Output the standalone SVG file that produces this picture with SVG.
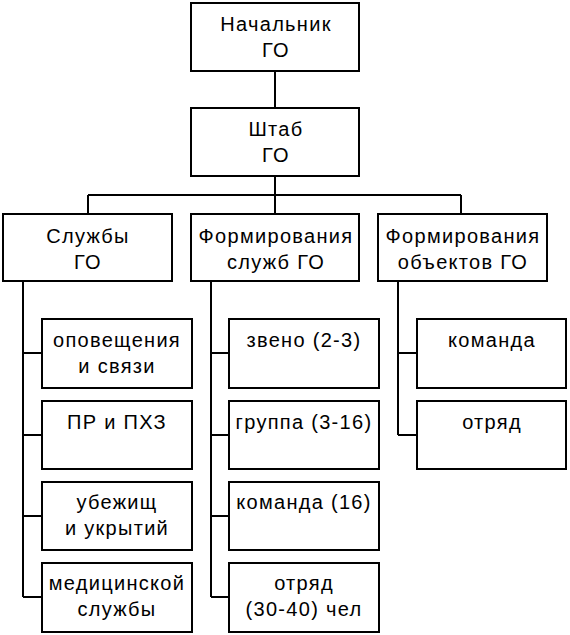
<svg xmlns="http://www.w3.org/2000/svg" width="570" height="635" viewBox="0 0 570 635">
<style>
.box{fill:#fff;stroke:#000;stroke-width:2}
.ln{fill:none;stroke:#000;stroke-width:2}
text{font-family:"Liberation Sans",Arial,sans-serif;font-size:20px;fill:#000;text-anchor:middle;letter-spacing:1.3px}
</style>
<rect width="570" height="635" fill="#fff"/>
<g id="connectors">
<path class="ln" d="M275 71V108M275 176V195M88 195H461M88 195V214M275 195V214M461 195V214"/>
<path class="ln" d="M23 281V597M23 353H42M23 435H42M23 516H42M23 597H42"/>
<path class="ln" d="M211 281V597M211 353H229M211 435H229M211 516H229M211 597H229"/>
<path class="ln" d="M398 281V435M398 353H417M398 435H417"/>
</g>
<g id="n-head"><rect class="box" x="191" y="3" width="168" height="68"/><text x="276" y="31">Начальник</text><text x="276" y="57">ГО</text></g>
<g id="n-staff"><rect class="box" x="191" y="108" width="168" height="68"/><text x="276" y="136">Штаб</text><text x="276" y="162">ГО</text></g>
<g id="n-services"><rect class="box" x="3" y="214" width="169" height="67"/><text x="88" y="243">Службы</text><text x="88" y="269">ГО</text></g>
<g id="n-form-services"><rect class="box" x="191" y="214" width="168" height="67"/><text x="276" y="243">Формирования</text><text x="276" y="269">служб ГО</text></g>
<g id="n-form-objects"><rect class="box" x="378" y="214" width="169" height="67"/><text x="463" y="243">Формирования</text><text x="463" y="269">объектов ГО</text></g>
<g id="n-s1"><rect class="box" x="42" y="319" width="150" height="69"/><text x="117" y="347">оповещения</text><text x="117" y="373">и связи</text></g>
<g id="n-s2"><rect class="box" x="42" y="401" width="150" height="68"/><text x="117" y="429">ПР и ПХЗ</text></g>
<g id="n-s3"><rect class="box" x="42" y="482" width="150" height="68"/><text x="117" y="509">убежищ</text><text x="117" y="535">и укрытий</text></g>
<g id="n-s4"><rect class="box" x="42" y="563" width="150" height="69"/><text x="117" y="590">медицинской</text><text x="117" y="616">службы</text></g>
<g id="n-f1"><rect class="box" x="229" y="319" width="150" height="69"/><text x="304" y="347">звено (2-3)</text></g>
<g id="n-f2"><rect class="box" x="229" y="401" width="150" height="68"/><text x="304" y="429">группа (3-16)</text></g>
<g id="n-f3"><rect class="box" x="229" y="482" width="150" height="68"/><text x="304" y="509">команда (16)</text></g>
<g id="n-f4"><rect class="box" x="229" y="563" width="150" height="69"/><text x="304" y="590">отряд</text><text x="304" y="616">(30-40) чел</text></g>
<g id="n-o1"><rect class="box" x="417" y="319" width="149" height="69"/><text x="492" y="347">команда</text></g>
<g id="n-o2"><rect class="box" x="417" y="401" width="149" height="68"/><text x="492" y="429">отряд</text></g>
</svg>
